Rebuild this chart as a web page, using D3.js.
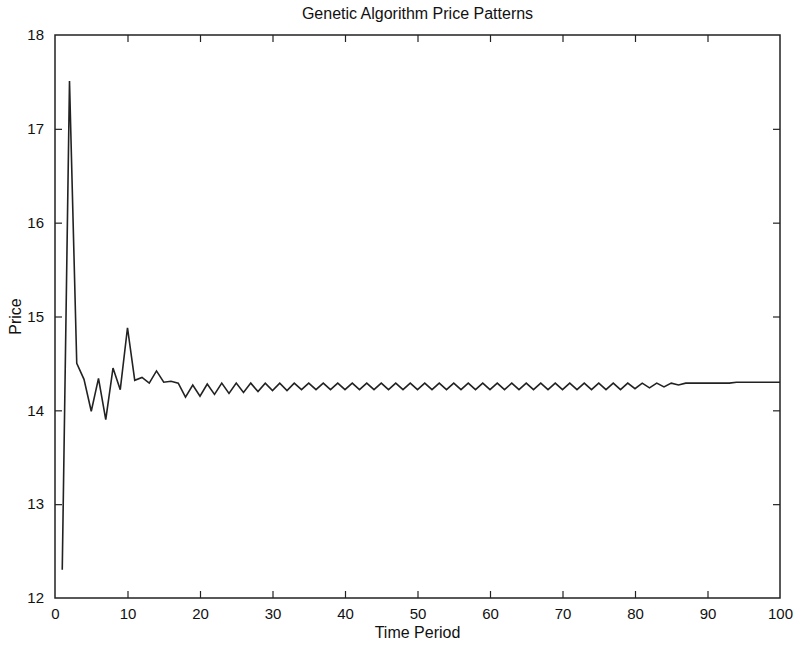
<!DOCTYPE html>
<html>
<head>
<meta charset="utf-8">
<script src="https://cdn.jsdelivr.net/npm/d3@7"></script>
<style>
  body { margin: 0; background: #fff; }
  svg text { font-family: "Liberation Sans", Arial, sans-serif; fill: #111; }
</style>
</head>
<body>
<div id="plot_area"></div>
<script>
// chart size and plot box
const w = 796;
const h = 645;
const margin = {top: 35, right: 16, bottom: 47, left: 55};

// data
const periods = d3.range(1, 101);
const prices = [
  12.30, 17.51, 14.50, 14.33, 13.99, 14.34, 13.90, 14.45, 14.22, 14.88,
  14.32, 14.35, 14.29, 14.42, 14.30, 14.31, 14.29, 14.14, 14.27, 14.15,
  14.28, 14.17, 14.29, 14.18, 14.29, 14.19, 14.29, 14.20, 14.29, 14.21,
  14.29, 14.21, 14.29, 14.22, 14.29, 14.22, 14.29, 14.22, 14.29, 14.22,
  14.29, 14.22, 14.29, 14.22, 14.29, 14.22, 14.29, 14.22, 14.29, 14.22,
  14.29, 14.22, 14.29, 14.22, 14.29, 14.22, 14.29, 14.22, 14.29, 14.22,
  14.29, 14.22, 14.29, 14.22, 14.29, 14.22, 14.29, 14.22, 14.29, 14.22,
  14.29, 14.22, 14.29, 14.22, 14.29, 14.22, 14.29, 14.22, 14.29, 14.23,
  14.29, 14.24, 14.29, 14.25, 14.29, 14.27, 14.29, 14.29, 14.29, 14.29,
  14.29, 14.29, 14.29, 14.30, 14.30, 14.30, 14.30, 14.30, 14.30, 14.30
];
const xTicks = [0, 10, 20, 30, 40, 50, 60, 70, 80, 90, 100];
const yTicks = [12, 13, 14, 15, 16, 17, 18];

const title = 'Genetic Algorithm Price Patterns';
const xLabel = 'Time Period';
const yLabel = 'Price';

const xScale = d3.scaleLinear()
                .domain([0, 100])
                .range([margin.left, w - margin.right]);

const yScale = d3.scaleLinear()
                .domain([12, 18])
                .range([h - margin.bottom, margin.top]);

const svg = d3.select('#plot_area')
          .append('svg')
          .attr('width', w)
          .attr('height', h);

const tickLen = 7;

// bottom axis with labels, ticks pointing inward
const xAxis = svg.append('g')
  .attr('transform', 'translate(0,' + (h - margin.bottom) + ')')
  .call(d3.axisBottom(xScale).tickValues(xTicks).tickSize(-tickLen).tickPadding(tickLen + 3)
        .tickFormat(d3.format('d')));

// top axis, ticks only
const xTop = svg.append('g')
  .attr('transform', 'translate(0,' + margin.top + ')')
  .call(d3.axisTop(xScale).tickValues(xTicks).tickSize(-tickLen).tickFormat(''));

// left axis with labels
const yAxis = svg.append('g')
  .attr('transform', 'translate(' + margin.left + ',0)')
  .call(d3.axisLeft(yScale).tickValues(yTicks).tickSize(-tickLen).tickPadding(tickLen + 4)
        .tickFormat(d3.format('d')));

// right axis, ticks only
const yRight = svg.append('g')
  .attr('transform', 'translate(' + (w - margin.right) + ',0)')
  .call(d3.axisRight(yScale).tickValues(yTicks).tickSize(-tickLen).tickFormat(''));

[xAxis, xTop, yAxis, yRight].forEach(function (g) {
  g.select('.domain').remove();
  g.selectAll('.tick line').attr('stroke', '#222').attr('stroke-width', 1.2);
  g.selectAll('text').style('font-size', '15px').attr('fill', '#111');
});

// hide tick lines at the box corners
xAxis.selectAll('.tick').filter(d => d === 0 || d === 100).select('line').remove();
xTop.selectAll('.tick').filter(d => d === 0 || d === 100).select('line').remove();
yAxis.selectAll('.tick').filter(d => d === 12 || d === 18).select('line').remove();
yRight.selectAll('.tick').filter(d => d === 12 || d === 18).select('line').remove();

// plot box
svg.append('rect')
  .attr('x', xScale(0))
  .attr('y', yScale(18))
  .attr('width', xScale(100) - xScale(0))
  .attr('height', yScale(12) - yScale(18))
  .attr('fill', 'none')
  .attr('stroke', '#222')
  .attr('stroke-width', 1.5);

// price line
svg.append('path')
  .datum(periods.map((t, i) => [t, prices[i]]))
  .attr('stroke', '#222')
  .attr('stroke-width', 1.6)
  .attr('fill', 'none')
  .attr('stroke-linejoin', 'miter')
  .attr('d', d3.line()
              .x((d) => xScale(d[0]))
              .y((d) => yScale(d[1])));

// title and axis labels
svg.append('text')
  .attr('x', (xScale(0) + xScale(100)) / 2)
  .attr('y', 19)
  .attr('text-anchor', 'middle')
  .style('font-size', '16px')
  .text(title);

svg.append('text')
  .attr('x', (xScale(0) + xScale(100)) / 2)
  .attr('y', 638)
  .attr('text-anchor', 'middle')
  .style('font-size', '16px')
  .text(xLabel);

svg.append('text')
  .attr('transform', 'translate(21,' + ((yScale(12) + yScale(18)) / 2) + ') rotate(-90)')
  .attr('text-anchor', 'middle')
  .style('font-size', '16px')
  .text(yLabel);
</script>
</body>
</html>
